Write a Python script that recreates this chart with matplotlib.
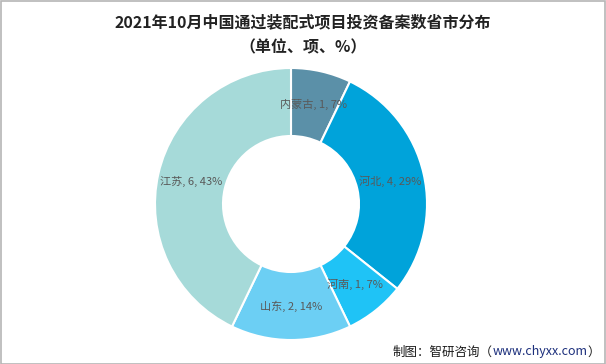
import matplotlib
matplotlib.use("Agg")
import matplotlib.pyplot as plt
from matplotlib.patches import Rectangle
import numpy as np

plt.rcParams['font.family'] = ['Noto Sans CJK SC', 'DejaVu Sans']

provinces = ['内蒙古', '河北', '河南', '山东', '江苏']
counts = [1, 4, 1, 2, 6]
percents = [7, 29, 7, 14, 43]
colors = ['#5b90a8', '#00a3da', '#1fc3f6', '#6ccff4', '#a6dad9']

W, H = 606, 364
fig = plt.figure(figsize=(W / 100, H / 100), dpi=100)
fig.patch.set_facecolor('white')

cx, cy, r = 291, 204, 136
ax = fig.add_axes([(cx - r) / W, (H - cy - r) / H, 2 * r / W, 2 * r / H])
wedges, _ = ax.pie(counts, colors=colors, startangle=90, counterclock=False,
                   radius=1.0, wedgeprops=dict(width=0.5, edgecolor='white', linewidth=1.5))
ax.set_xlim(-1, 1)
ax.set_ylim(-1, 1)
ax.set_aspect('equal')

total = sum(counts)
ang = 90.0
for name, c, p in zip(provinces, counts, percents):
    span = 360.0 * c / total
    mid = np.deg2rad(ang - span / 2)
    ang -= span
    rr = 0.75
    ax.text(rr * np.cos(mid), rr * np.sin(mid), f'{name}, {c}, {p}%',
            ha='center', va='center', fontsize=8, color='#595959')

fig.text(0.5, 1 - 22 / H, '2021年10月中国通过装配式项目投资备案数省市分布',
         ha='center', va='center', fontsize=11.5, fontweight='bold', color='#222222')
fig.text(0.5, 1 - 47 / H, '（单位、项、%）',
         ha='center', va='center', fontsize=11.5, fontweight='bold', color='#222222')

# footer
fig.canvas.draw()
renderer = fig.canvas.get_renderer()
fy = 1 - 352 / H
parts = [('制图：智研咨询（', '#1a1a1a'), ('www.chyxx.com', '#1c2f7c'), ('）', '#1a1a1a')]
texts = []
for s, col in parts:
    t = fig.text(0, fy, s, ha='left', va='center', fontsize=9, color=col)
    texts.append(t)
widths = [t.get_window_extent(renderer).width for t in texts]
x = 600 - sum(widths)
for t, w in zip(texts, widths):
    t.set_x(x / W)
    x += w

fig.patches.append(Rectangle((0.5 / W, 0.5 / H), 1 - 1.5 / W, 1 - 1.5 / H,
                             transform=fig.transFigure, fill=False,
                             edgecolor='#b5b5b5', linewidth=1.2))

fig.savefig('out.png', dpi=100)
